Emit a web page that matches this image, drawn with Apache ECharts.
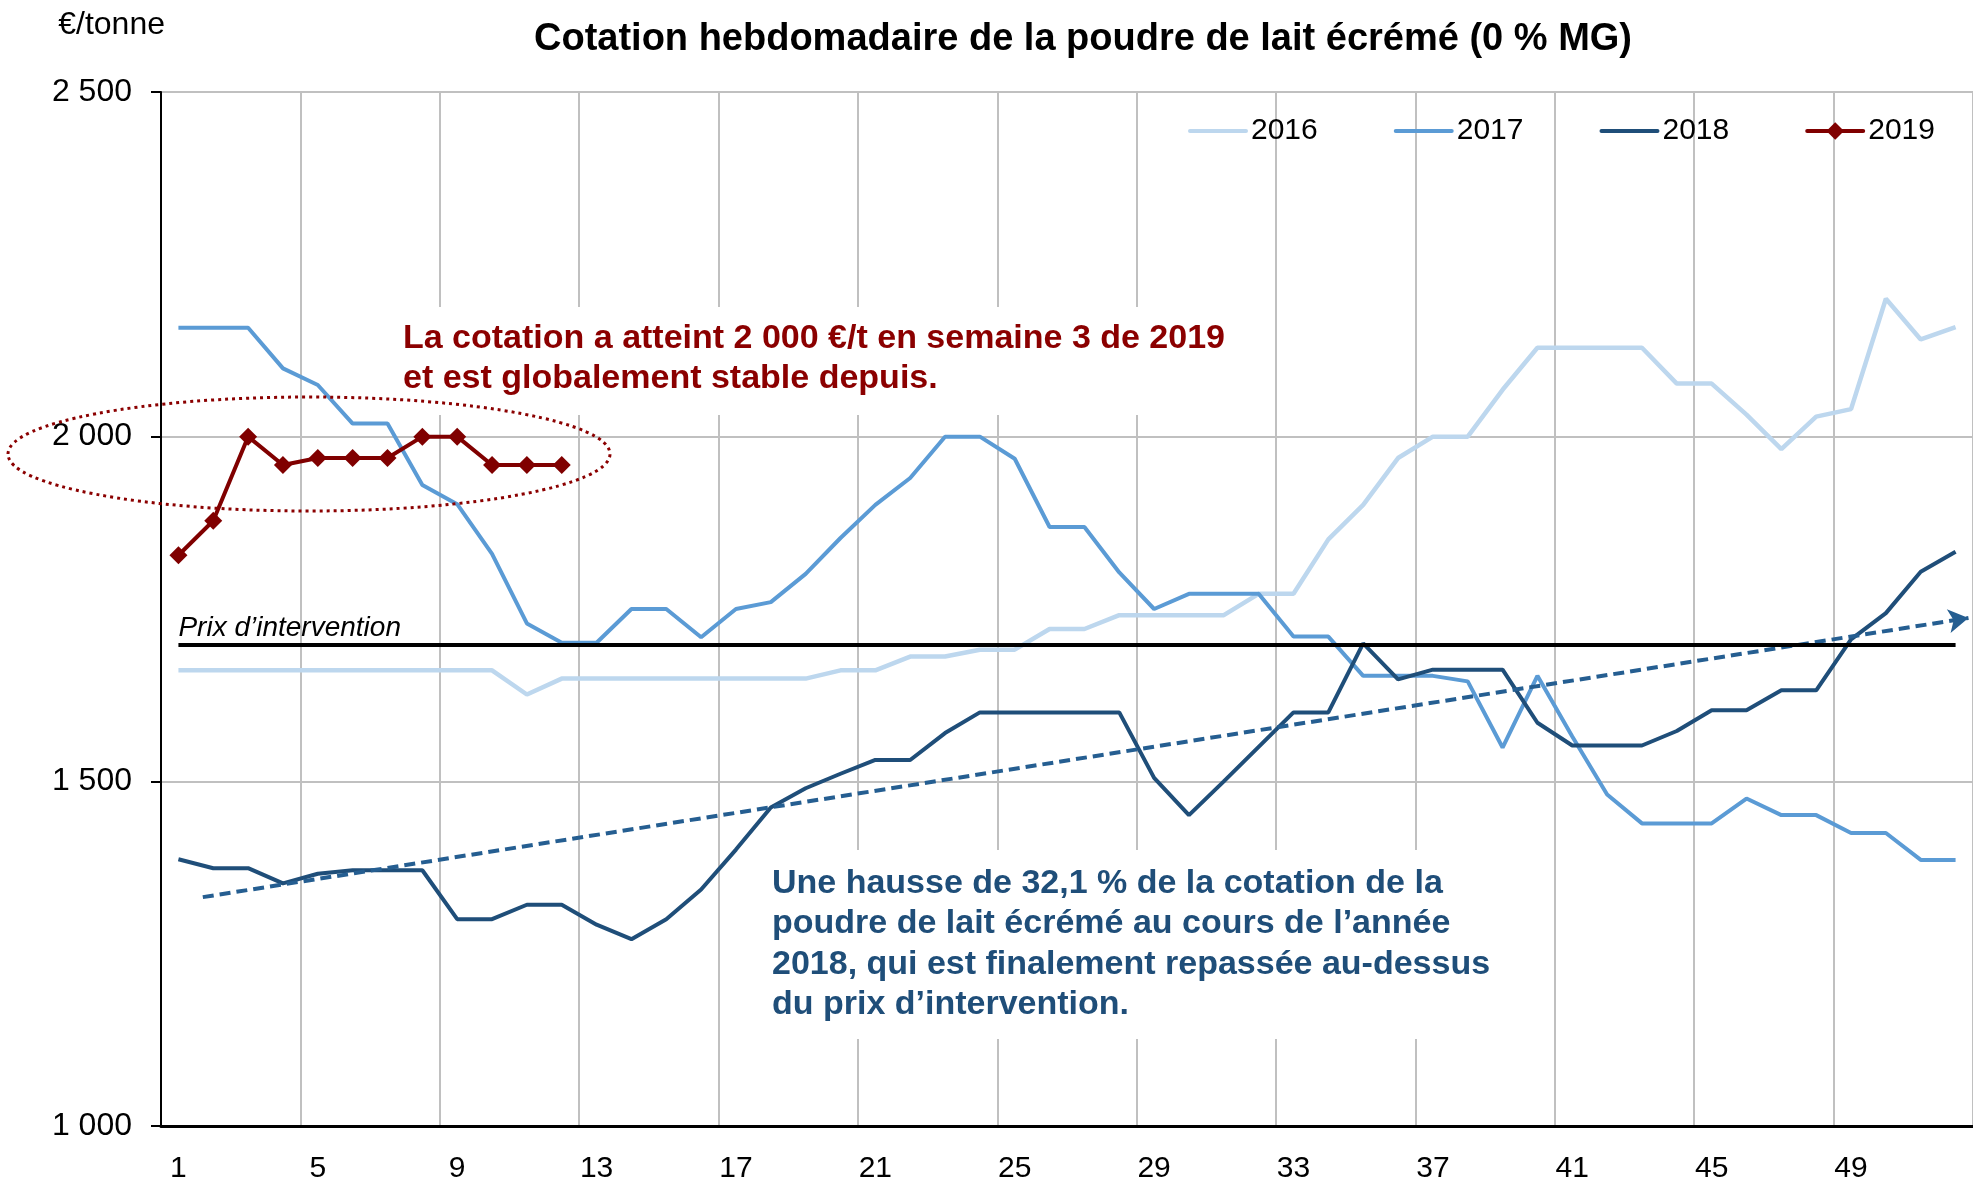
<!DOCTYPE html>
<html>
<head>
<meta charset="utf-8">
<title>Cotation hebdomadaire de la poudre de lait écrémé</title>
<script src="https://cdn.jsdelivr.net/npm/echarts@6/dist/echarts.min.js"></script>
<style>
    html, body { margin: 0; padding: 0; background: #fff; }
    #chart { width: 1973px; height: 1184px; }
</style>
</head>
<body>
<div id="chart"></div>
<script>
// 周数 1..52
let weeks = [];
for (let i = 1; i <= 52; i++) weeks.push(String(i));

let years = ['2016', '2017', '2018', '2019'];

// €/tonne par semaine
let data2016 = [1661, 1661, 1661, 1661, 1661, 1661, 1661, 1661, 1661, 1661,
    1626, 1649, 1649, 1649, 1649, 1649, 1649, 1649, 1649, 1661,
    1661, 1681, 1681, 1691, 1691, 1721, 1721, 1741, 1741, 1741,
    1741, 1772, 1772, 1851, 1901, 1969, 2000, 2000, 2068, 2129,
    2129, 2129, 2129, 2077, 2077, 2032, 1982, 2029, 2040, 2200,
    2141, 2159];
let data2017 = [2158, 2158, 2158, 2099, 2075, 2019, 2019, 1930, 1902, 1830,
    1729, 1701, 1701, 1750, 1750, 1709, 1750, 1760, 1801, 1853,
    1901, 1940, 2000, 2000, 1968, 1869, 1869, 1803, 1750, 1772,
    1772, 1772, 1710, 1710, 1653, 1653, 1653, 1645, 1549, 1653,
    1565, 1481, 1439, 1439, 1439, 1475, 1451, 1451, 1425, 1425,
    1386, 1386];
let data2018 = [1387, 1374, 1374, 1352, 1366, 1371, 1371, 1371, 1300, 1300,
    1321, 1321, 1292, 1271, 1300, 1343, 1401, 1462, 1490, 1511,
    1531, 1531, 1570, 1600, 1600, 1600, 1600, 1600, 1505, 1451,
    1500, 1550, 1600, 1600, 1700, 1648, 1662, 1662, 1662, 1585,
    1552, 1552, 1552, 1573, 1603, 1603, 1632, 1632, 1706, 1744,
    1804, 1833];
let data2019 = [1828, 1878, 2000, 1959, 1969, 1969, 1969, 2000, 2000, 1959,
    1959, 1959];

// 趋势线 (flèche pointillée) et prix d'intervention
let trendWeeks = [1.7, 52.37];
let trendValues = [1332, 1737];
let interventionWeeks = [1, 52];
let interventionPrice = 1698;

let yTicks = [1000, 1500, 2000, 2500];

(function(){
    let myChart = echarts.init(document.getElementById('chart'));
    let font = 'Liberation Sans, Arial, sans-serif';
    let colors = ['#bdd7ee', '#5b9bd5', '#1f4e79', '#800000'];

    function fmt(v) {
        return String(v).replace(/\B(?=(\d{3})+(?!\d))/g, ' ');
    }

    let option = {
        animation: false,
        textStyle: { fontFamily: font },
        title: {
            text: 'Cotation hebdomadaire de la poudre de lait écrémé (0 % MG)',
            left: 1078,
            top: 16,
            textAlign: 'center',
            textStyle: { fontSize: 38, fontWeight: 'bold', color: '#000', fontFamily: font }
        },
        legend: {
            // 前三个图例只显示线, 不显示圆点
            data: [
                { name: '2016', itemStyle: { opacity: 0 } },
                { name: '2017', itemStyle: { opacity: 0 } },
                { name: '2018', itemStyle: { opacity: 0 } },
                { name: '2019' }
            ],
            left: 1183,
            top: 111,
            itemWidth: 56,
            itemHeight: 22,
            itemGap: 76,
            lineStyle: { width: 4, cap: 'round' },
            textStyle: { fontSize: 30, color: '#000', fontFamily: font }
        },
        grid: {
            left: 161,
            top: 92,
            width: 1818,
            height: 1040
        },
        xAxis: [{
            type: 'category',
            data: weeks,
            boundaryGap: true,
            axisLine: { lineStyle: { color: '#000', width: 3 } },
            // 刻度在类目边界
            axisTick: { interval: 3, length: 10, lineStyle: { color: '#000', width: 2 } },
            axisLabel: { interval: 3, fontSize: 30, color: '#000', margin: 28, fontFamily: font },
            splitLine: { show: true, interval: 3, lineStyle: { color: '#c0c0c0', width: 2 } }
        }, {
            // 隐藏的数值轴, 用于趋势线
            type: 'value',
            min: 0.5,
            max: 52.5,
            show: false
        }],
        yAxis: {
            type: 'value',
            min: yTicks[0],
            max: yTicks[yTicks.length - 1],
            interval: 500,
            name: '€/tonne',
            nameLocation: 'end',
            nameGap: 51,
            nameTextStyle: { align: 'right', fontSize: 32, color: '#000', fontFamily: font, padding: [0, -4, 0, 0] },
            axisLine: { show: true, lineStyle: { color: '#000', width: 2 } },
            axisTick: { show: true, length: 10, lineStyle: { color: '#000', width: 2 } },
            axisLabel: { fontSize: 32, color: '#000', margin: 29, formatter: fmt, fontFamily: font },
            splitLine: { lineStyle: { color: '#c0c0c0', width: 2 } }
        },
        series: [
            {
                name: '2016', type: 'line', data: data2016,
                symbol: 'none', color: colors[0],
                lineStyle: { width: 4.5, color: colors[0] }
            },
            {
                name: '2017', type: 'line', data: data2017,
                symbol: 'none', color: colors[1],
                lineStyle: { width: 4, color: colors[1] }
            },
            {
                name: '2018', type: 'line', data: data2018,
                symbol: 'none', color: colors[2],
                lineStyle: { width: 4, color: colors[2] }
            },
            {
                // 趋势线
                name: 'tendance', type: 'line', xAxisIndex: 1,
                data: [[trendWeeks[0], trendValues[0]], [trendWeeks[1], trendValues[1]]],
                symbol: 'none',
                lineStyle: { opacity: 0 },
                markLine: {
                    silent: true,
                    symbol: ['none', 'arrow'],
                    symbolSize: [18, 20],
                    label: { show: false },
                    lineStyle: { color: '#255e91', width: 4, type: [11, 6] },
                    data: [[
                        { coord: [trendWeeks[0], trendValues[0]] },
                        { coord: [trendWeeks[1], trendValues[1]] }
                    ]]
                }
            },
            {
                // 干预价格线
                name: 'intervention', type: 'line', xAxisIndex: 1,
                data: [[interventionWeeks[0], interventionPrice], [interventionWeeks[1], interventionPrice]],
                symbol: 'none',
                lineStyle: { opacity: 0 },
                markLine: {
                    silent: true,
                    symbol: 'none',
                    lineStyle: { color: '#000', width: 4, type: 'solid' },
                    label: {
                        show: true,
                        position: 'insideStartTop',
                        formatter: 'Prix d’intervention',
                        fontStyle: 'italic',
                        fontSize: 28,
                        color: '#000',
                        distance: [0, 3],
                        fontFamily: font
                    },
                    data: [[
                        { coord: [interventionWeeks[0], interventionPrice] },
                        { coord: [interventionWeeks[1], interventionPrice] }
                    ]]
                }
            },
            {
                name: '2019', type: 'line', data: data2019,
                symbol: 'diamond', symbolSize: 18, showSymbol: true,
                color: colors[3],
                itemStyle: { color: colors[3] },
                lineStyle: { width: 4, color: colors[3] }
            }
        ],
        // 注释
        graphic: [
            {
                type: 'ellipse',
                z: 10,
                shape: { cx: 309, cy: 454, rx: 301, ry: 57 },
                style: { fill: 'none', stroke: '#8b0000', lineWidth: 3, lineDash: [3, 4] }
            },
            {
                type: 'text',
                z: 1,
                x: 391,
                y: 307,
                style: {
                    text: 'La cotation a atteint 2 000 €/t en semaine 3 de 2019\net est globalement stable depuis.',
                    font: 'bold 34px Liberation Sans, Arial, sans-serif',
                    fill: '#8b0000',
                    lineHeight: 40,
                    backgroundColor: '#fff',
                    padding: [12, 20, 16, 12]
                }
            },
            {
                type: 'text',
                z: 1,
                x: 760,
                y: 850,
                style: {
                    text: 'Une hausse de 32,1 % de la cotation de la\npoudre de lait écrémé au cours de l’année\n2018, qui est finalement repassée au-dessus\ndu prix d’intervention.',
                    font: 'bold 34px Liberation Sans, Arial, sans-serif',
                    fill: '#1f4e79',
                    lineHeight: 40.5,
                    backgroundColor: '#fff',
                    padding: [13, 24, 14, 12]
                }
            }
        ]
    };
    myChart.setOption(option);
})();
</script>
</body>
</html>
